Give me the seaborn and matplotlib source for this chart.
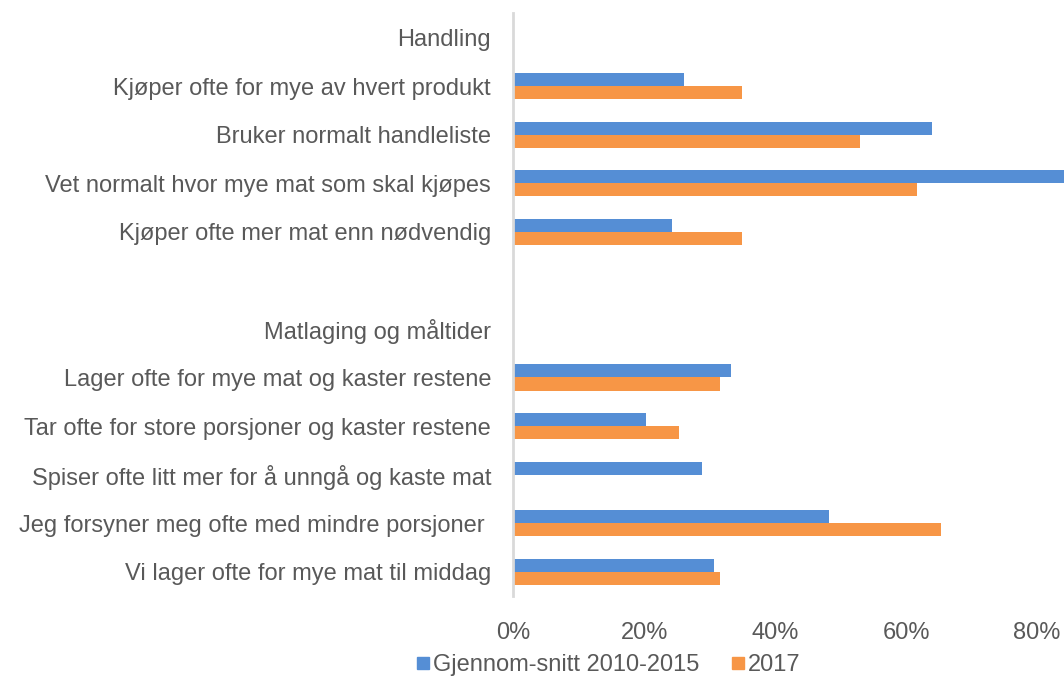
import pandas as pd
import matplotlib.pyplot as plt
import seaborn as sns
from matplotlib.lines import Line2D
from matplotlib.ticker import PercentFormatter

# kategorier (ovenfra og ned), tom rad som skille
kategorier = [
    "Handling",
    "Kjøper ofte for mye av hvert produkt",
    "Bruker normalt handleliste",
    "Vet normalt hvor mye mat som skal kjøpes",
    "Kjøper ofte mer mat enn nødvendig",
    " ",
    "Matlaging og måltider",
    "Lager ofte for mye mat og kaster restene",
    "Tar ofte for store porsjoner og kaster restene",
    "Spiser ofte litt mer for å unngå og kaste mat",
    "Jeg forsyner meg ofte med mindre porsjoner ",
    "Vi lager ofte for mye mat til middag",
]

snitt_2010_2015 = [None, 0.260, 0.639, 0.88, 0.242, None, None, 0.333, 0.203, 0.288, 0.482, 0.306]
aar_2017 = [None, 0.350, 0.529, 0.617, 0.350, None, None, 0.315, 0.253, None, 0.653, 0.315]

serier = ["Gjennom-snitt 2010-2015", "2017"]
farger = ["#558ED5", "#F79646"]

df = pd.concat([
    pd.DataFrame({"kategori": kategorier, "andel": snitt_2010_2015, "serie": serier[0]}),
    pd.DataFrame({"kategori": kategorier, "andel": aar_2017, "serie": serier[1]}),
], ignore_index=True)
df = df.dropna()

plt.rcParams["font.family"] = ["Liberation Sans", "DejaVu Sans"]
tekstfarge = "#595959"

fig = plt.figure(figsize=(10.64, 6.77), dpi=100)
ax = fig.add_axes([0.4824, 0.1196, 0.5176, 0.8608])

sns.barplot(
    data=df,
    x="andel",
    y="kategori",
    hue="serie",
    order=kategorier,
    hue_order=serier,
    palette=farger,
    orient="h",
    width=0.54,
    saturation=1,
    legend=False,
    ax=ax,
)

ax.set_xlim(0, 0.841)
ax.set_xticks([0, 0.2, 0.4, 0.6, 0.8])
ax.xaxis.set_major_formatter(PercentFormatter(1.0, decimals=0))
ax.set_xlabel("")
ax.set_ylabel("")
ax.tick_params(axis="both", length=0, labelsize=17, colors=tekstfarge)
ax.tick_params(axis="x", pad=19)
ax.tick_params(axis="y", pad=16)
for s in ["top", "right", "bottom"]:
    ax.spines[s].set_visible(False)
ax.spines["left"].set_color("#D9D9D9")
ax.spines["left"].set_linewidth(2)
ax.grid(False)

handles = [Line2D([0], [0], marker="s", linestyle="", markersize=9,
                  markerfacecolor=c, markeredgecolor=c) for c in farger]
fig.legend(handles, serier, loc="center", bbox_to_anchor=(0.571, 0.017),
           ncol=2, frameon=False, fontsize=17, labelcolor=tekstfarge,
           handletextpad=0.05, columnspacing=1.3, handlelength=0.7)

fig.savefig("out.png", dpi=100)
